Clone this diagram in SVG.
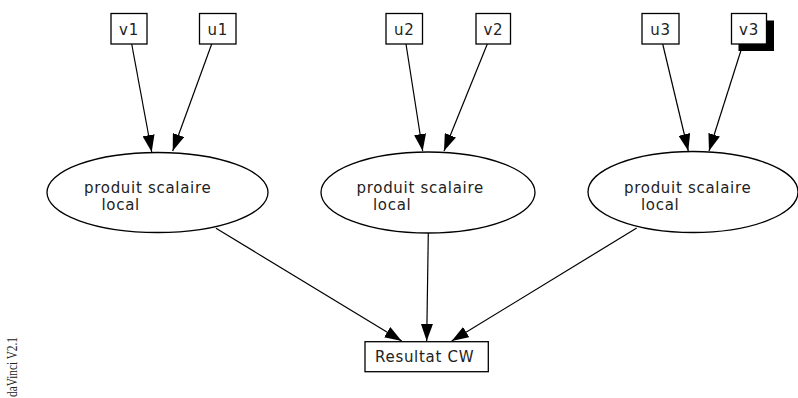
<svg xmlns="http://www.w3.org/2000/svg" width="798" height="398" viewBox="0 0 798 398">
<defs>
<style>
.box{fill:#fff;stroke:#000;stroke-width:1.3}
.ell{fill:#fff;stroke:#000;stroke-width:1.3}
.lbl{font-family:"DejaVu Sans",sans-serif;font-size:15px;fill:#222;letter-spacing:0.7px}
.edge{stroke:#000;stroke-width:1.2;fill:none;marker-end:url(#arr)}
</style>
<marker id="arr" markerUnits="userSpaceOnUse" markerWidth="18" markerHeight="12" refX="17" refY="6" orient="auto">
<path d="M0,0 L17,6 L0,12 Z" fill="#000"/>
</marker>
</defs>
<rect width="798" height="398" fill="#fff"/>
<g id="connectors">
<line class="edge" x1="131.7" y1="44" x2="151.7" y2="152"/>
<line class="edge" x1="211.7" y1="44" x2="172.7" y2="151"/>
<line class="edge" x1="406" y1="44" x2="422.7" y2="151"/>
<line class="edge" x1="487.3" y1="44" x2="444" y2="151"/>
<line class="edge" x1="662.7" y1="44" x2="688.3" y2="151"/>
<line class="edge" x1="743" y1="44" x2="709" y2="151"/>
<line class="edge" x1="216" y1="228.3" x2="401.7" y2="341"/>
<line class="edge" x1="428.3" y1="233" x2="426.7" y2="341"/>
<line class="edge" x1="636.7" y1="228" x2="451.7" y2="341"/>
</g>
<g id="v1"><rect class="box" x="111" y="13.5" width="36" height="30.5"/><text class="lbl" x="129" y="35" text-anchor="middle">v1</text></g>
<g id="u1"><rect class="box" x="199.5" y="13.5" width="36.5" height="30.5"/><text class="lbl" x="217.7" y="35" text-anchor="middle">u1</text></g>
<g id="u2"><rect class="box" x="386" y="13.5" width="36.5" height="30.5"/><text class="lbl" x="404.3" y="35" text-anchor="middle">u2</text></g>
<g id="v2"><rect class="box" x="476" y="13.5" width="34.5" height="30.5"/><text class="lbl" x="493.3" y="35" text-anchor="middle">v2</text></g>
<g id="u3"><rect class="box" x="642" y="13.5" width="37" height="30.5"/><text class="lbl" x="660.5" y="35" text-anchor="middle">u3</text></g>
<g id="v3"><rect x="738.5" y="20.5" width="35.5" height="30.5" fill="#000"/><rect class="box" x="731.5" y="13.5" width="35" height="30.5"/><text class="lbl" x="749" y="35" text-anchor="middle">v3</text></g>
<g id="ps1"><ellipse class="ell" cx="157.5" cy="192.5" rx="110.5" ry="40"/><text class="lbl" x="84" y="193">produit scalaire</text><text class="lbl" x="101.5" y="210">local</text></g>
<g id="ps2"><ellipse class="ell" cx="428" cy="192.5" rx="107" ry="40.5"/><text class="lbl" x="356.5" y="193">produit scalaire</text><text class="lbl" x="373" y="210">local</text></g>
<g id="ps3"><ellipse class="ell" cx="693" cy="192" rx="105" ry="40.5"/><text class="lbl" x="624" y="193">produit scalaire</text><text class="lbl" x="641" y="210">local</text></g>
<g id="result"><rect class="box" x="365" y="341.7" width="123.3" height="30"/><text class="lbl" x="375" y="362">Resultat CW</text></g>
<text x="16.5" y="397" transform="rotate(-90 16.5 397)" font-family="Liberation Serif,serif" font-size="15" textLength="60" lengthAdjust="spacingAndGlyphs" fill="#222">daVinci V2.1</text>
</svg>
